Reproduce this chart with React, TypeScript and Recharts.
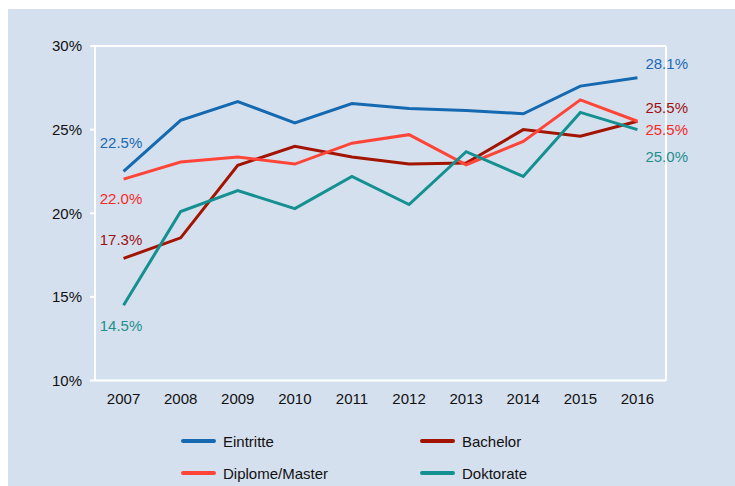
import React from "react";
import { LineChart, Line, XAxis, YAxis, CartesianGrid, Legend, LabelList } from "recharts";

const years = ["2007", "2008", "2009", "2010", "2011", "2012", "2013", "2014", "2015", "2016"];
const eintritte = [22.5, 25.55, 26.68, 25.4, 26.56, 26.26, 26.15, 25.95, 27.6, 28.1];
const bachelor = [17.3, 18.53, 22.87, 24.0, 23.36, 22.94, 23.0, 25.0, 24.6, 25.5];
const diplomeMaster = [22.04, 23.06, 23.36, 22.94, 24.19, 24.7, 22.9, 24.29, 26.78, 25.5];
const doktorate = [14.5, 20.1, 21.35, 20.28, 22.2, 20.52, 23.68, 22.2, 26.03, 25.0];
const yTicks = [10, 15, 20, 25, 30];

const data = years.map((y, i) => ({
  year: y,
  eintritte: eintritte[i],
  bachelor: bachelor[i],
  diplome: diplomeMaster[i],
  doktorate: doktorate[i],
}));

const series = [
  { key: "eintritte", name: "Eintritte", color: "#1469b1", label: "#2068b4", leftDy: -28.4, rightDy: -13.7 },
  { key: "bachelor", name: "Bachelor", color: "#a31400", label: "#a11010", leftDy: -19, rightDy: -13.7 },
  { key: "diplome", name: "Diplome/Master", color: "#ff4537", label: "#f82a24", leftDy: 20, rightDy: 8 },
  { key: "doktorate", name: "Doktorate", color: "#13908f", label: "#1f8f8c", leftDy: 20.4, rightDy: 27 },
];

const FONT = "'Liberation Sans', Arial, Helvetica, sans-serif";

function makeLabel(s: any) {
  return (props: any) => {
    const { x, y, index, value } = props;
    const last = years.length - 1;
    if (index !== 0 && index !== last) return null;
    const isFirst = index === 0;
    return (
      <text
        x={isFirst ? x - 2.5 : x + 8}
        y={y + (isFirst ? s.leftDy : s.rightDy) + 5.3}
        textAnchor={isFirst ? "middle" : "start"}
        fill={s.label}
        fontSize={15}
        fontFamily={FONT}
      >
        {Number(value).toFixed(1)}%
      </text>
    );
  };
}

function LegendContent(props: any) {
  const payload = props.payload || [];
  const cols = [181, 420];
  const items = series.map((s) => {
    const p = payload.find((q: any) => q.value === s.name);
    return { name: s.name, color: p ? p.color : s.color };
  });
  return (
    <div style={{ position: "relative", width: 735, height: 64 }}>
      {items.map((p, i) => (
        <div
          key={i}
          style={{
            position: "absolute",
            left: cols[i % 2],
            top: Math.floor(i / 2) * 32,
            height: 32,
            display: "flex",
            alignItems: "center",
          }}
        >
          <div style={{ width: 35, height: 4, background: p.color, borderRadius: 2 }} />
          <span style={{ marginLeft: 7, fontSize: 15, color: "#111", fontFamily: FONT }}>{p.name}</span>
        </div>
      ))}
    </div>
  );
}

export default function App() {
  return (
    <div style={{ position: "absolute", left: 0, top: 0, width: 735, height: 486, background: "#fff", fontFamily: FONT }}>
      <div style={{ position: "absolute", left: 8, top: 9, right: 0, bottom: 0, background: "#d5e0ee" }} />
      <div style={{ position: "absolute", left: 0, top: 0 }}>
        <LineChart width={735} height={486} data={data} margin={{ top: 46, right: 0, left: 0, bottom: 11.5 }}>
          <CartesianGrid horizontal vertical={false} stroke="#ffffff" strokeWidth={2} />
          <XAxis
            dataKey="year"
            padding={{ left: 28.55, right: 28.55 }}
            axisLine={false}
            tickLine={false}
            tickSize={0}
            tickMargin={13}
            height={30}
            tick={{ fill: "#111", fontSize: 15 }}
            interval={0}
          />
          <YAxis
            yAxisId="left"
            domain={[10, 30]}
            ticks={yTicks}
            tickFormatter={(v: number) => `${v}%`}
            width={95}
            axisLine={{ stroke: "#ffffff", strokeWidth: 2 }}
            tickLine={{ stroke: "#ffffff", strokeWidth: 2 }}
            tickSize={5}
            tickMargin={8}
            tick={{ fill: "#111", fontSize: 15 }}
          />
          <YAxis
            yAxisId="right"
            orientation="right"
            domain={[10, 30]}
            ticks={yTicks}
            width={69}
            tick={false}
            tickLine={false}
            axisLine={{ stroke: "#ffffff", strokeWidth: 2 }}
          />
          {series.map((s) => (
            <Line
              key={s.key}
              yAxisId="left"
              type="linear"
              dataKey={s.key}
              name={s.name}
              stroke={s.color}
              strokeWidth={3}
              dot={false}
              activeDot={false}
              isAnimationActive={false}
            >
              <LabelList dataKey={s.key} content={makeLabel(s)} />
            </Line>
          ))}
          <Legend
            verticalAlign="bottom"
            content={<LegendContent />}
            wrapperStyle={{ left: 0, top: 425, width: 735, height: 64 }}
          />
        </LineChart>
      </div>
    </div>
  );
}
